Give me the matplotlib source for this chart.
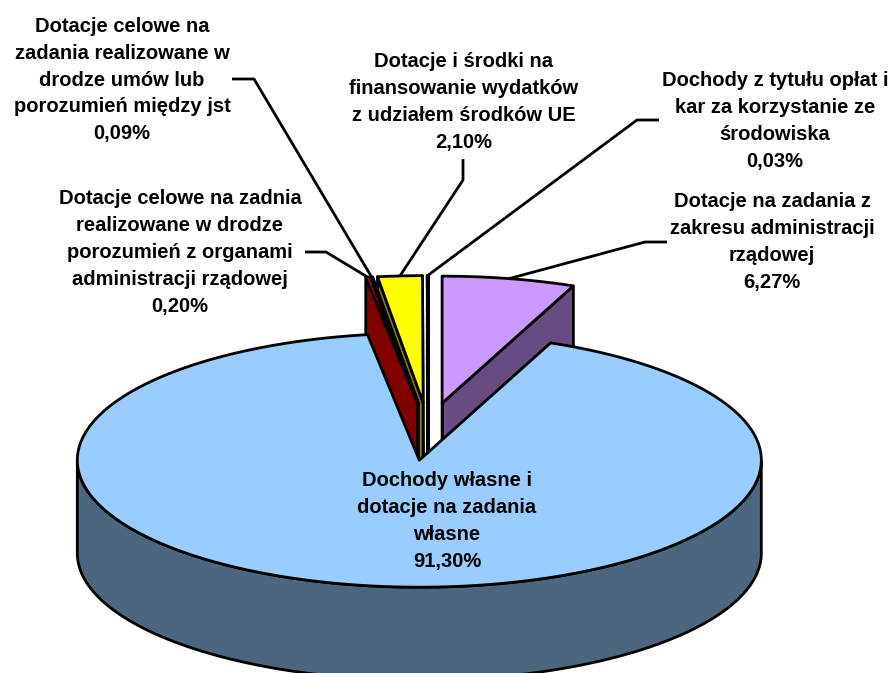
import numpy as np
import matplotlib
matplotlib.use("Agg")
import matplotlib.pyplot as plt

# clockwise from 12 o'clock
labels = [
    "Dotacje na zadania z\nzakresu administracji\nrządowej\n6,27%",
    "Dochody własne i\ndotacje na zadania\nwłasne\n91,30%",
    "Dotacje celowe na zadnia\nrealizowane w drodze\nporozumień z organami\nadministracji rządowej\n0,20%",
    "Dotacje celowe na\nzadania realizowane w\ndrodze umów lub\nporozumień między jst\n0,09%",
    "Dotacje i środki na\nfinansowanie wydatków\nz udziałem środków UE\n2,10%",
    "Dochody z tytułu opłat i\nkar za korzystanie ze\nśrodowiska\n0,03%",
]
values = [6.27, 91.30, 0.20, 0.09, 2.10, 0.03]
top_colors = ["#CC99FF", "#99CCFF", "#FF0000", "#993366", "#FFFF00", "#FFFFFF"]
side_colors = ["#664C80", "#4D6680", "#800000", "#4D1A33", "#808000", "#808080"]

# label centres in pixels
label_x = [772, 447, 180, 122, 464, 775]
label_y = [242, 521, 252.5, 80, 102, 121]

# leader elbows in pixels, None for the slice without a leader
leaders = [
    [(645, 242), (667, 242)],
    None,
    [(326, 252), (305, 252)],
    [(254, 79), (232, 79)],
    [(463, 180), (463, 159)],
    [(637, 120), (659, 120)],
]

CX, CY = 428, 431.5
RX, RY = 342, 127
EX, EY = 72, 28.9
DEPTH = 93
LW = 2.0


def pt(cx, cy, ang):
    return cx + RX * np.sin(ang), cy - RY * np.cos(ang)


fig = plt.figure(figsize=(8.91, 6.73), dpi=100)
ax = fig.add_axes([0, 0, 1, 1])
ax.set_xlim(0, 891)
ax.set_ylim(673, 0)
ax.axis("off")

fracs = np.array(values) / sum(values)
edges = np.concatenate([[0], np.cumsum(fracs)]) * 2 * np.pi

slices = []
for i in range(len(values)):
    a0, a1 = edges[i], edges[i + 1]
    mid = (a0 + a1) / 2
    slices.append((a0, a1, mid, CX + EX * np.sin(mid), CY - EY * np.cos(mid)))


def draw_slice(i, zorder):
    a0, a1, mid, cx, cy = slices[i]
    t = np.linspace(a0, a1, 400)
    ax_, ay_ = pt(cx, cy, t)

    # rim, only the part facing front
    front = t[(t > np.pi / 2) & (t < 3 * np.pi / 2)]
    if len(front):
        fx, fy = pt(cx, cy, front)
        ax.fill(np.r_[fx, fx[::-1]], np.r_[fy, fy[::-1] + DEPTH],
                fc=side_colors[i], ec="black", lw=LW, zorder=zorder)
    else:
        # radial walls of the slices at the back
        for a in (a1, a0):
            ex, ey = pt(cx, cy, a)
            ax.fill([cx, ex, ex, cx], [cy, ey, ey + DEPTH, cy + DEPTH],
                    fc=side_colors[i], ec="black", lw=LW, zorder=zorder,
                    joinstyle="round")
    ax.fill(np.r_[cx, ax_], np.r_[cy, ay_], fc=top_colors[i], ec="black",
            lw=LW, zorder=zorder + 0.5, joinstyle="round")


# back to front, big slice last
for z, i in enumerate([5, 0, 4, 3, 2, 1]):
    draw_slice(i, z + 2)

for i, elbow in enumerate(leaders):
    if elbow is None:
        continue
    a0, a1, mid, cx, cy = slices[i]
    sx, sy = pt(cx, cy, mid)
    xs = [sx] + [p[0] for p in elbow]
    ys = [sy] + [p[1] for p in elbow]
    ax.plot(xs, ys, color="black", lw=LW, zorder=1, solid_capstyle="butt")

for i, txt in enumerate(labels):
    ax.text(label_x[i], label_y[i], txt, ha="center", va="center",
            family="Liberation Sans", weight="bold", fontsize=14.5,
            linespacing=1.52, zorder=20)

fig.savefig("out.png", dpi=100)
